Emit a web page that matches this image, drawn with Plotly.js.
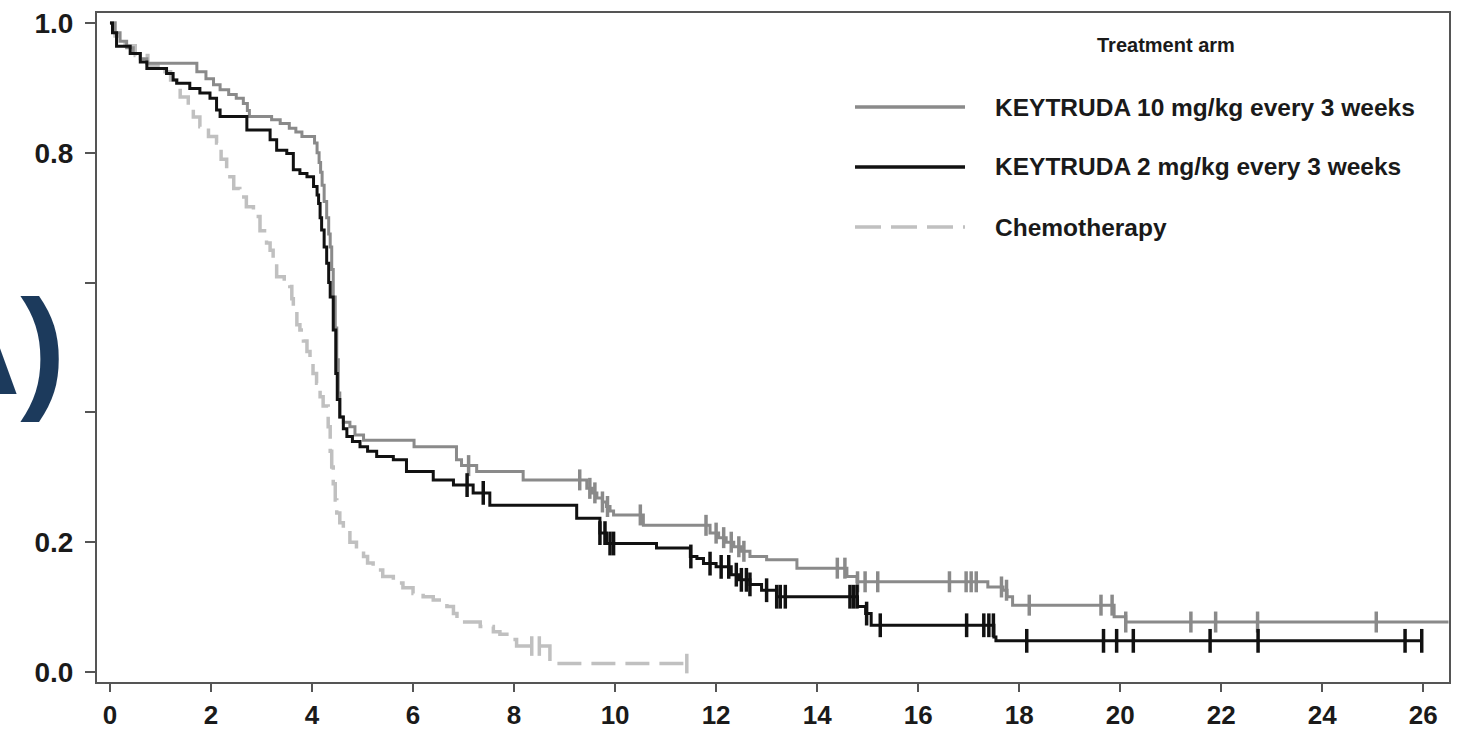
<!DOCTYPE html>
<html>
<head>
<meta charset="utf-8">
<script src="https://cdn.plot.ly/plotly-3.0.1.min.js"></script>
<style>html,body{margin:0;padding:0;background:#fff;}#chart{width:1473px;height:733px;}</style>
</head>
<body>
<div id="chart"></div>
<script>
// ---- Data ----
var seriesNames = ["KEYTRUDA 10 mg/kg every 3 weeks", "KEYTRUDA 2 mg/kg every 3 weeks", "Chemotherapy"];
var legendTitle = "Treatment arm";
var panelLabel = "A)";

// KEYTRUDA 10 mg/kg (step curve: time in months, survival probability)
var k10Time = [0,0.1,0.2,0.33,0.46,0.6,0.73,1.72,1.9,2.05,2.18,2.35,2.5,2.64,2.72,2.76,3.2,3.37,3.55,3.68,3.8,4.05,4.1,4.14,4.17,4.2,4.24,4.29,4.33,4.36,4.39,4.42,4.46,4.49,4.52,4.55,4.62,4.75,4.85,5.02,6.02,6.86,6.96,7.26,8.18,9.44,9.55,9.64,9.75,9.83,9.9,9.97,10.56,11.88,12.05,12.2,12.35,12.5,12.67,13.0,13.6,14.59,14.79,17.38,17.68,17.76,17.87,19.88,20.11,26.5];
var k10Surv = [1.0,0.985,0.972,0.962,0.953,0.945,0.938,0.925,0.914,0.905,0.897,0.89,0.884,0.876,0.865,0.856,0.851,0.845,0.838,0.832,0.825,0.815,0.80,0.785,0.77,0.75,0.725,0.70,0.675,0.655,0.62,0.578,0.53,0.481,0.43,0.393,0.385,0.378,0.365,0.357,0.347,0.327,0.318,0.309,0.296,0.283,0.276,0.268,0.262,0.255,0.248,0.242,0.226,0.214,0.207,0.20,0.193,0.186,0.178,0.173,0.160,0.147,0.139,0.131,0.126,0.116,0.103,0.085,0.077,0.077];
var k10Censor = [7.1,9.3,9.5,9.6,9.75,9.85,10.5,11.8,12.0,12.15,12.3,12.45,12.55,14.4,14.55,14.8,14.95,15.2,16.62,16.95,17.05,17.15,17.65,17.75,18.2,19.62,19.84,20.11,21.4,21.89,22.72,25.07];

// KEYTRUDA 2 mg/kg
var k2Time = [0,0.05,0.13,0.4,0.6,0.73,1.12,1.25,1.32,1.58,1.78,1.98,2.11,2.18,2.71,3.17,3.3,3.5,3.63,3.76,3.9,4.03,4.1,4.13,4.16,4.19,4.24,4.29,4.33,4.36,4.42,4.47,4.5,4.55,4.62,4.69,4.8,4.95,5.1,5.28,5.61,5.87,6.4,6.8,7.19,7.52,9.24,9.7,9.83,10.82,11.49,11.62,11.75,12.0,12.3,12.45,12.67,12.9,13.2,14.8,14.96,15.07,17.5,17.54,25.97];
var k2Surv = [1.0,0.985,0.964,0.953,0.94,0.930,0.922,0.912,0.907,0.899,0.892,0.884,0.866,0.856,0.835,0.820,0.804,0.799,0.774,0.768,0.763,0.748,0.735,0.722,0.70,0.681,0.655,0.630,0.60,0.578,0.527,0.46,0.42,0.393,0.375,0.363,0.355,0.347,0.34,0.332,0.327,0.309,0.296,0.288,0.276,0.257,0.237,0.214,0.198,0.191,0.178,0.175,0.167,0.162,0.150,0.142,0.135,0.126,0.116,0.101,0.09,0.072,0.054,0.048,0.048];
var k2Censor = [7.07,7.39,9.7,9.8,9.9,9.97,11.5,11.88,12.1,12.25,12.4,12.5,12.6,12.67,13.0,13.2,13.27,13.37,14.65,14.72,14.79,14.98,15.25,16.96,17.3,17.4,17.49,18.15,19.67,19.93,20.26,21.78,22.73,25.64,25.97];

// Chemotherapy
var chemoTime = [0,0.1,0.3,0.5,0.75,1.0,1.2,1.39,1.55,1.65,1.78,1.95,2.11,2.2,2.31,2.45,2.57,2.7,2.84,2.97,3.1,3.17,3.23,3.3,3.45,3.56,3.6,3.63,3.7,3.76,3.83,3.9,3.96,4.02,4.09,4.16,4.22,4.32,4.36,4.39,4.42,4.46,4.49,4.55,4.62,4.75,4.88,5.02,5.1,5.21,5.4,5.61,5.8,6.0,6.2,6.4,6.67,6.8,6.87,7.33,7.59,7.72,7.9,8.05,8.71,11.42];
var chemoSurv = [1.0,0.98,0.965,0.95,0.935,0.925,0.912,0.886,0.868,0.855,0.840,0.825,0.815,0.79,0.763,0.745,0.732,0.717,0.702,0.68,0.661,0.650,0.630,0.609,0.600,0.594,0.575,0.558,0.535,0.527,0.51,0.494,0.476,0.46,0.445,0.424,0.41,0.378,0.34,0.316,0.29,0.265,0.245,0.23,0.219,0.20,0.188,0.178,0.168,0.157,0.147,0.137,0.13,0.121,0.116,0.111,0.101,0.09,0.077,0.070,0.062,0.058,0.05,0.040,0.013,0.013];
var chemoCensor = [8.35,8.5,11.42];

var xTickVals = [0,2,4,6,8,10,12,14,16,18,20,22,24,26];
var yTickVals = [0,0.2,0.4,0.6,0.8,1.0];
var yTickText = ["0.0","0.2","","","0.8","1.0"];

// ---- Styles ----
var colK10 = "#8a8a8a", colK2 = "#111111", colChemo = "#c0c0c0";

function stepAt(times, surv, t){
  var v = surv[0];
  for (var i=0;i<times.length;i++){ if (times[i] <= t) v = surv[i]; else break; }
  return v;
}
function censorY(times, surv, cens){ return cens.map(function(t){ return stepAt(times, surv, t); }); }

var traces = [
  {x: chemoTime, y: chemoSurv, mode:"lines", line:{shape:"hv", color:colChemo, width:3.5, dash:"24px,10px"}, name:seriesNames[2], hoverinfo:"skip"},
  {x: chemoCensor, y: censorY(chemoTime, chemoSurv, chemoCensor), mode:"markers", marker:{symbol:"line-ns", size:14, color:colChemo, line:{color:colChemo, width:3.5}}, hoverinfo:"skip"},
  {x: k10Time, y: k10Surv, mode:"lines", line:{shape:"hv", color:colK10, width:3}, name:seriesNames[0], hoverinfo:"skip"},
  {x: k10Censor, y: censorY(k10Time, k10Surv, k10Censor), mode:"markers", marker:{symbol:"line-ns", size:15, color:colK10, line:{color:colK10, width:3.5}}, hoverinfo:"skip"},
  {x: k2Time, y: k2Surv, mode:"lines", line:{shape:"hv", color:colK2, width:3}, name:seriesNames[1], hoverinfo:"skip"},
  {x: k2Censor, y: censorY(k2Time, k2Surv, k2Censor), mode:"markers", marker:{symbol:"line-ns", size:17, color:colK2, line:{color:colK2, width:3.5}}, hoverinfo:"skip"}
];

var W = 1473, H = 733, mL = 97, mR = 24, mT = 13, mB = 51;
var pw = W - mL - mR, ph = H - mT - mB;
function px(xp){ return (xp - mL) / pw; }
function py(yp){ return (H - mB - yp) / ph; }

var legFont = {family:"Liberation Sans, Arial, sans-serif", size:24.5, color:"#1a1a1a", weight:"bold"};
var legTitleFont = {family:"Liberation Sans, Arial, sans-serif", size:20, color:"#1a1a1a", weight:"bold"};
var legendRows = [
  {name: seriesNames[0], color: colK10, dash: "solid", y: 107},
  {name: seriesNames[1], color: colK2, dash: "solid", y: 167},
  {name: seriesNames[2], color: colChemo, dash: "26px,10px", y: 227}
];
var shapes = [], annotations = [];
legendRows.forEach(function(r){
  shapes.push({type:"line", xref:"paper", yref:"paper", x0:px(855), x1:px(965), y0:py(r.y), y1:py(r.y), line:{color:r.color, width:3.5, dash:r.dash}});
  annotations.push({xref:"paper", yref:"paper", x:px(993), y:py(r.y), xanchor:"left", yanchor:"middle", text:r.name, showarrow:false, font:legFont});
});
annotations.push({xref:"paper", yref:"paper", x:px(1166), y:py(45), xanchor:"center", yanchor:"middle", text:legendTitle, showarrow:false, font:legTitleFont});
annotations.push({xref:"paper", yref:"paper", x:px(68), y:py(347), xanchor:"right", yanchor:"middle", text:"<b>"+panelLabel+"</b>", showarrow:false, font:{family:"Liberation Sans, Arial, sans-serif", size:136, color:"#1c3a5c"}});

var tickFontX = {family:"Liberation Sans, Arial, sans-serif", size:26, color:"#1a1a1a", weight:"bold"};
var tickFontY = {family:"Liberation Sans, Arial, sans-serif", size:28, color:"#1a1a1a", weight:"bold"};
var layout = {
  width: W, height: H,
  margin: {l:mL, r:mR, t:mT, b:mB, pad:0},
  paper_bgcolor: "#ffffff", plot_bgcolor: "#ffffff",
  showlegend: false,
  xaxis: {range:[-0.257, 26.51], tickvals:xTickVals, ticks:"outside", ticklen:8, tickwidth:2, tickcolor:"#555", ticklabelstandoff:1,
          showline:true, mirror:true, linecolor:"#555", linewidth:2, showgrid:false, zeroline:false, tickfont:tickFontX},
  yaxis: {range:[-0.0154, 1.0154], tickvals:yTickVals, ticktext:yTickText, ticks:"outside", ticklen:10, tickwidth:2, tickcolor:"#555", ticklabelstandoff:6,
          showline:true, mirror:true, linecolor:"#555", linewidth:2, showgrid:false, zeroline:false, tickfont:tickFontY},
  shapes: shapes,
  annotations: annotations
};
Plotly.newPlot("chart", traces, layout, {displayModeBar:false, staticPlot:true});
</script>
</body>
</html>
